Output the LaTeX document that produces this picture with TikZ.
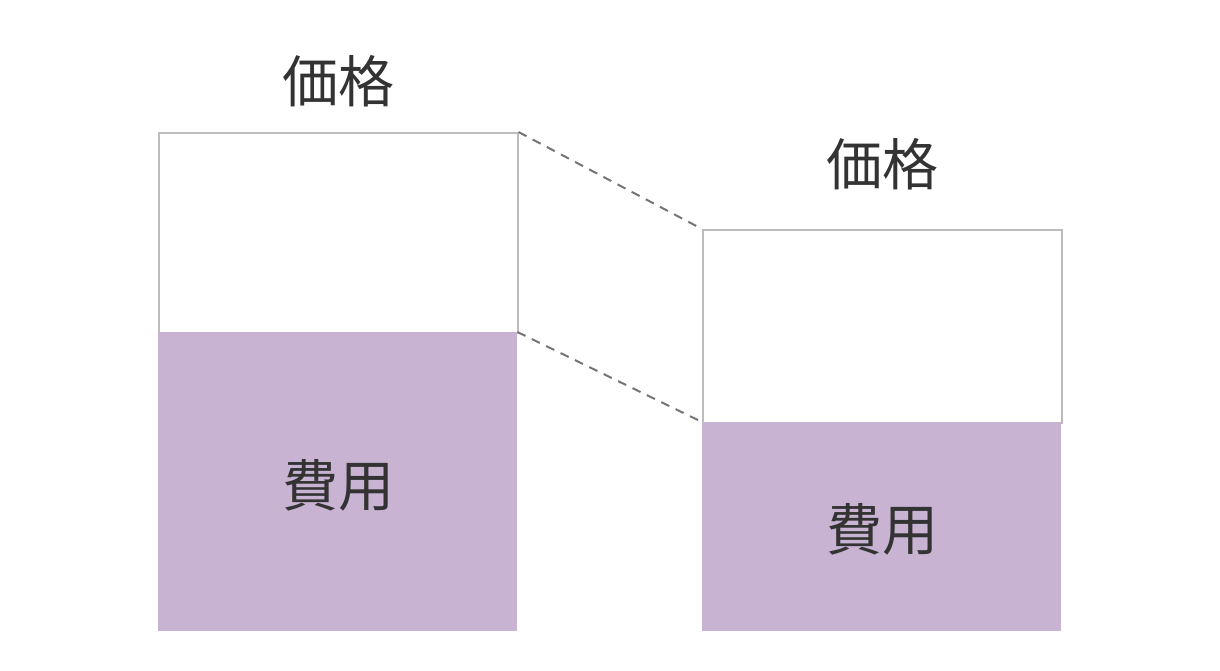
\documentclass[tikz,border=0pt]{standalone}
\usepackage{fontspec}
\setmainfont{Noto Sans CJK JP}
\usepackage{xcolor}
\usetikzlibrary{calc}
\usetikzlibrary{positioning}

\definecolor{costpurple}{HTML}{C8B3D3}
\definecolor{edgegray}{HTML}{BDBDBD}
\definecolor{linkgray}{HTML}{757575}
\definecolor{labeltext}{HTML}{333333}

\tikzset{
  pricebox/.style={draw=edgegray, line width=1.5pt, fill=white, inner sep=0pt, minimum width=359pt},
  costbox/.style={fill=costpurple, inner sep=0pt, minimum width=359pt},
  biglabel/.style={text=labeltext, font=\fontsize{56pt}{64pt}\selectfont, inner sep=0pt},
  link/.style={draw=linkgray, line width=2pt, dash pattern=on 9pt off 7pt}
}

\begin{document}
\begin{tikzpicture}[x=1pt,y=-1pt]

    \useasboundingbox (0,0) rectangle (1220,670);

    % left: before
    \node[pricebox, minimum height=200pt, anchor=north west] (priceA) at (158,132) {};
    \node[costbox, minimum height=299pt, anchor=north west] (costA) at (158,332) {};
    \node[biglabel] (priceAlbl) at (338,81) {価格};
    \node[biglabel] (costAlbl) at (338,485) {費用};

    % right: after
    \node[pricebox, minimum height=193pt, anchor=north west] (priceB) at (702,229) {};
    \node[costbox, minimum height=209pt, anchor=north west] (costB) at (702,422) {};
    \node[biglabel] (priceBlbl) at (882,164) {価格};
    \node[biglabel] (costBlbl) at (882,529) {費用};

    \draw[link] (priceA.north east) -- (priceB.north west);
    \draw[link] (costA.north east) -- (costB.north west);
  \end{tikzpicture}
\end{document}
